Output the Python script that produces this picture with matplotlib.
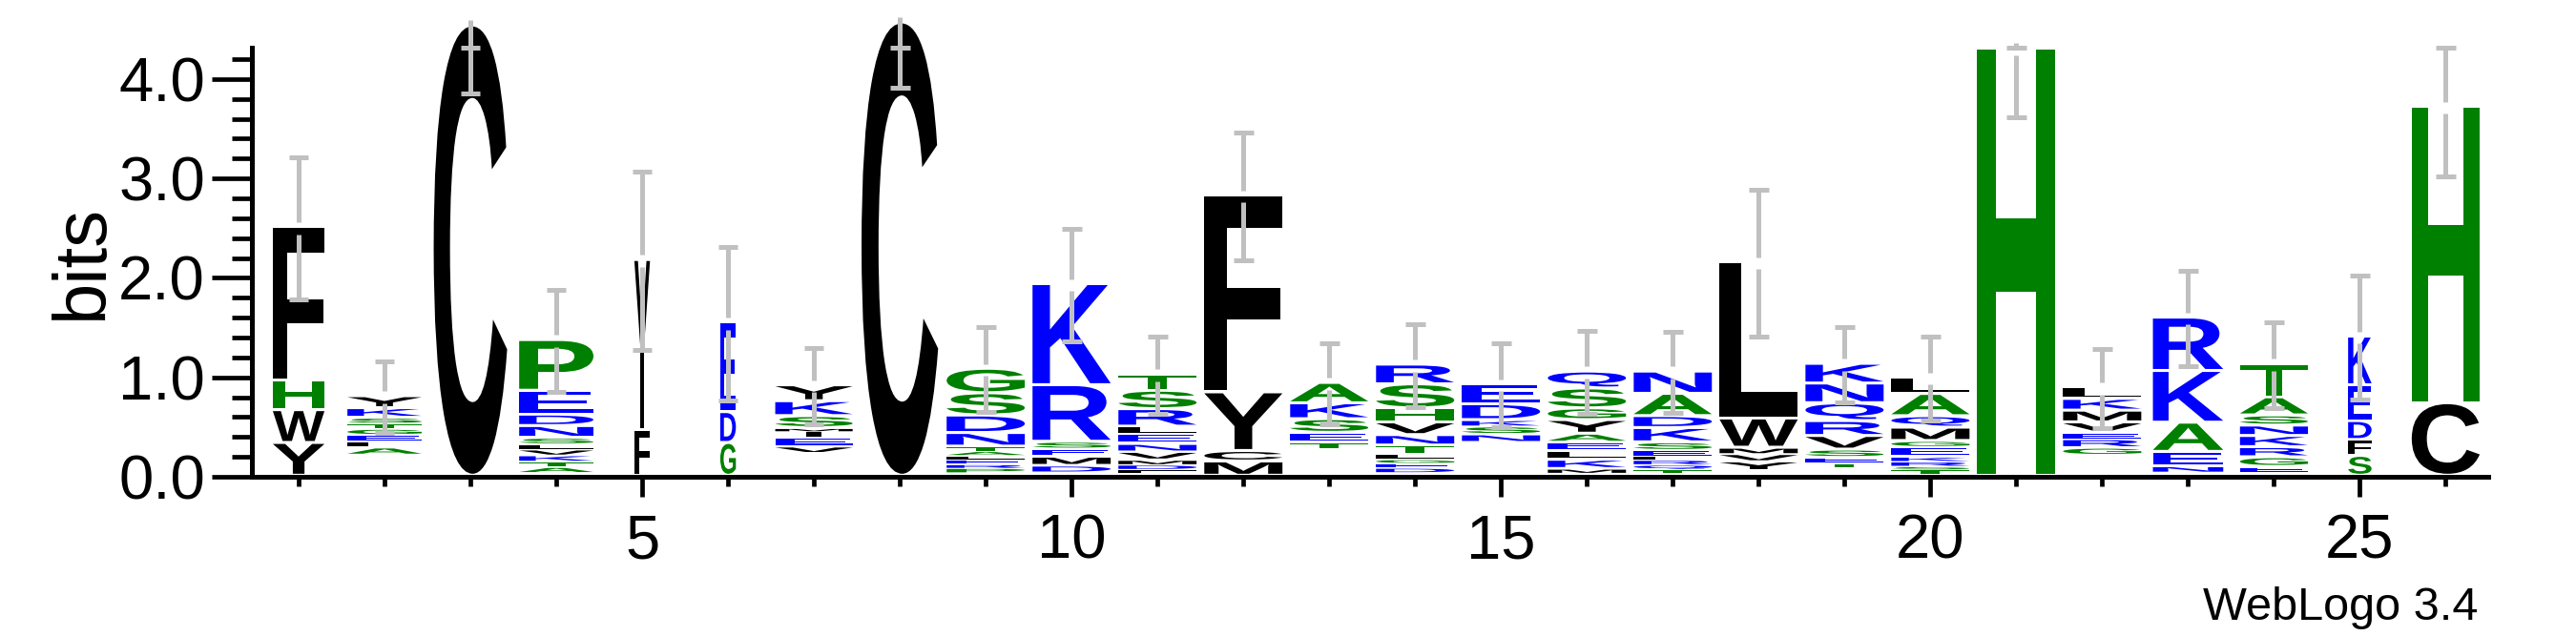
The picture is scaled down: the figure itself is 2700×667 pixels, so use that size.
import matplotlib
matplotlib.use("Agg")
import matplotlib.pyplot as plt
from matplotlib.textpath import TextPath
from matplotlib.patches import PathPatch
from matplotlib.font_manager import FontProperties
from matplotlib.transforms import Affine2D
from matplotlib.ticker import MultipleLocator

plt.rcParams["font.family"] = ["Liberation Sans", "DejaVu Sans"]

# Sequence logo data (WebLogo 3.4 style), letters listed bottom -> top
positions = list(range(1, 27))
stack_letters = [
    "YWHF", "ALEGTSKY", "C", "ATKVLSNDEP", "FIV", "GDE", "VEIMSKY", "C",
    "PRELATNDSG", "DMESRK", "FDMVNELRST", "MCYF", "TESKA", "DEGLTNVHSR",
    "NSKDE", "MKLEAYGSQ", "TQRLESKDAN", "YVMWL", "TESVRQNK", "TSRKEGMQAL",
    "H", "GREVMKL", "NEAKR", "EGRKNSAT", "SFDEK", "CH",
]
stack_heights = [
    [0.33, 0.33, 0.30, 1.54],
    [0.074, 0.064, 0.064, 0.06, 0.054, 0.058, 0.096, 0.12],
    [4.53],
    [0.058, 0.054, 0.064, 0.058, 0.054, 0.064, 0.118, 0.115, 0.24, 0.51],
    [0.46, 0.80, 0.91],
    [0.33, 0.31, 0.90],
    [0.064, 0.09, 0.064, 0.032, 0.12, 0.15, 0.16],
    [4.56],
    [0.048, 0.038, 0.048, 0.042, 0.042, 0.045, 0.137, 0.176, 0.224, 0.246],
    [0.07, 0.09, 0.08, 0.07, 0.569, 1.017],
    [0.038, 0.048, 0.048, 0.08, 0.08, 0.10, 0.074, 0.176, 0.185, 0.166],
    [0.144, 0.105, 0.59, 1.98],
    [0.074, 0.096, 0.137, 0.16, 0.205],
    [0.048, 0.048, 0.04, 0.05, 0.086, 0.105, 0.128, 0.14, 0.243, 0.198],
    [0.08, 0.08, 0.064, 0.16, 0.20],
    [0.045, 0.09, 0.09, 0.086, 0.086, 0.137, 0.118, 0.20, 0.17],
    [0.038, 0.048, 0.048, 0.038, 0.058, 0.08, 0.144, 0.12, 0.224, 0.224],
    [0.096, 0.074, 0.064, 0.294, 1.573],
    [0.048, 0.058, 0.077, 0.137, 0.15, 0.18, 0.198, 0.198],
    [0.048, 0.032, 0.048, 0.048, 0.10, 0.058, 0.134, 0.115, 0.224, 0.166],
    [4.30],
    [0.074, 0.086, 0.064, 0.105, 0.118, 0.118, 0.115],
    [0.064, 0.144, 0.294, 0.52, 0.537],
    [0.058, 0.096, 0.102, 0.112, 0.105, 0.102, 0.182, 0.336],
    [0.20, 0.16, 0.19, 0.36, 0.49],
    [0.73, 2.98],
]
# summed height of residues too small to show at the bottom of each stack
hidden = [0, 0.21, 0, 0.03, 0, 0, 0.23, 0, 0.03, 0.032, 0.026, 0, 0.262,
          0.032, 0.336, 0.026, 0.026, 0.048, 0.08, 0.016, 0, 0.208, 0.032,
          0.032, 0, 0]
errors = [0.715, 0.36, 0.67, 0.515, 0.895, 0.775, 0.38, 0.65, 0.425, 0.57,
          0.39, 0.645, 0.41, 0.42, 0.425, 0.415, 0.41, 0.735, 0.38, 0.42,
          0.68, 0.395, 0.48, 0.43, 0.62, 0.69]
occupancy = [0.66, 0.95, 0.94, 0.95, 0.2, 0.2, 0.99, 0.98, 1.0, 1.0, 1.0,
             1.0, 1.0, 1.0, 1.0, 1.0, 1.0, 1.0, 1.0, 1.0, 1.0, 1.0, 0.9,
             0.87, 0.3, 0.87]

# hydrophobicity colour scheme
colors = {}
for c in "RKDENQ":
    colors[c] = "#0000FF"
for c in "SGHTAP":
    colors[c] = "#008000"
for c in "YVMCLFIW":
    colors[c] = "#000000"

YMAX = 4.32
STACK_W = 0.91
GAP = 0.06
CAP = 0.115
ERR_COLOR = "#C0C0C0"

font = FontProperties(family="Liberation Sans", weight="bold")


def draw_letter(ax, ch, xc, y0, w, h):
    path = TextPath((0, 0), ch, size=1, prop=font)
    ext = path.get_extents()
    pad = min(0.03, 0.3 * h)
    gh = h - pad
    if ch == "I":
        w = w * 0.2
    tr = (Affine2D().translate(-ext.x0, -ext.y0)
          .scale(w / ext.width, gh / ext.height)
          .translate(xc - w / 2, y0 + pad))
    ax.add_patch(PathPatch(tr.transform_path(path), facecolor=colors[ch],
                           edgecolor="none", lw=0, clip_on=False, zorder=3))


fig = plt.figure(figsize=(27, 6.67), dpi=100)
ax = fig.add_axes([0.0976, 0.2504, 0.8685, 0.6753])

tops = []
for x, letters, hs, base, occ in zip(positions, stack_letters, stack_heights,
                                     hidden, occupancy):
    y = base
    for ch, h in zip(letters, hs):
        draw_letter(ax, ch, x, y, STACK_W * occ, h)
        y += h
    tops.append(y)

# error bars, split around the stack top, upper end capped at max entropy
for x, top, e in zip(positions, tops, errors):
    hi = min(top + e, YMAX)
    lo = top - e
    kw = dict(color=ERR_COLOR, lw=3.6, solid_capstyle="butt", clip_on=False,
              zorder=4)
    ax.plot([x, x], [top + GAP, hi], **kw)
    ax.plot([x, x], [top - GAP, lo], **kw)
    ax.plot([x - CAP, x + CAP], [hi, hi], **kw)
    ax.plot([x - CAP, x + CAP], [lo, lo], **kw)

ax.set_xlim(0.45, 26.5)
ax.set_ylim(0, YMAX)
for s in ["top", "right"]:
    ax.spines[s].set_visible(False)
for s in ["left", "bottom"]:
    ax.spines[s].set_linewidth(3.6)

ax.xaxis.set_major_locator(MultipleLocator(5))
ax.xaxis.set_minor_locator(MultipleLocator(1))
ax.yaxis.set_major_locator(MultipleLocator(1))
ax.yaxis.set_minor_locator(MultipleLocator(0.2))
ax.yaxis.set_major_formatter(plt.FuncFormatter(lambda v, p: f"{v:.1f}"))

ax.tick_params(axis="x", which="major", length=15, width=3.4, pad=13,
               labelsize=47)
ax.tick_params(axis="x", which="minor", length=7.3, width=3.4)
ax.tick_params(axis="y", which="major", length=30, width=3.4, pad=5,
               labelsize=47)
ax.tick_params(axis="y", which="minor", length=15, width=3.4)

ax.set_ylabel("bits", fontsize=56)
ax.yaxis.set_label_coords(-0.060, 0.5)

fig.text(0.962, 0.0255, "WebLogo 3.4", fontsize=35, ha="right",
         va="baseline")

fig.savefig("out.png", dpi=100, facecolor="white")
